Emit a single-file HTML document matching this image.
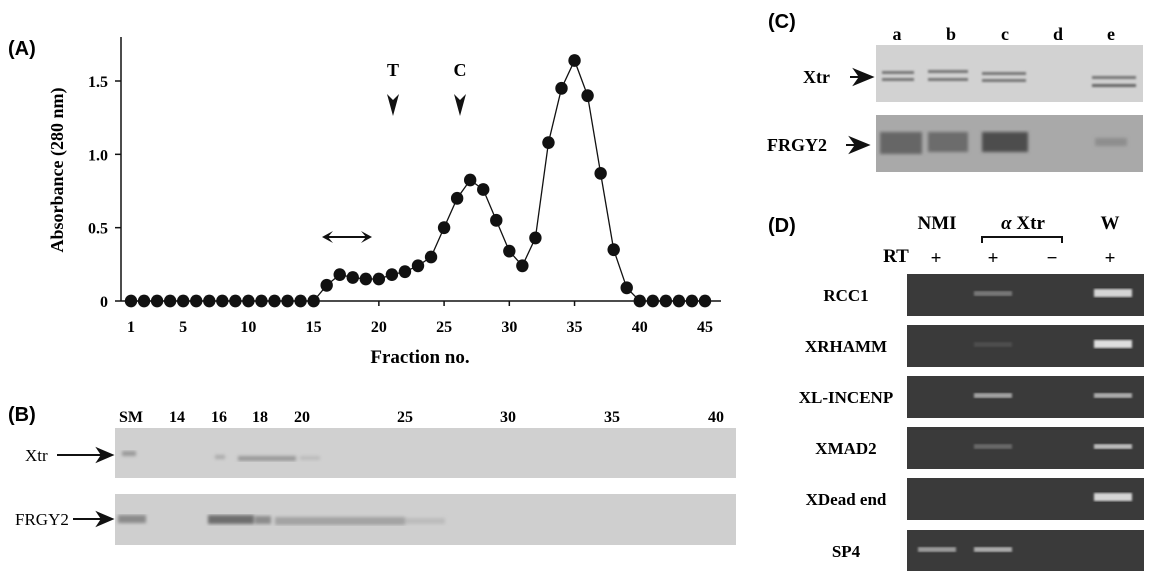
<!DOCTYPE html>
<html><head><meta charset="utf-8"><style>
body{margin:0;background:#fff;width:1149px;height:571px;overflow:hidden;position:relative;font-family:"Liberation Serif",serif}
svg{position:absolute;left:0;top:0}
</style></head><body>
<svg width="1149" height="571" viewBox="0 0 1149 571" id="fig">
<defs>
<filter id="blur2"><feGaussianBlur stdDeviation="1.6"/></filter>
<filter id="blur1"><feGaussianBlur stdDeviation="1"/></filter>
</defs>
<!-- Panel A -->
<text x="8" y="55" font-family="Liberation Sans" font-weight="bold" font-size="20">(A)</text>
<text transform="translate(63,170) rotate(-90)" text-anchor="middle" font-weight="bold" font-size="18">Absorbance (280 nm)</text>
<g id="axes"></g>
<g id="series"></g>
<text x="393" y="76" text-anchor="middle" font-weight="bold" font-size="18">T</text>
<path d="M387,94 L393,116 L399,94 L393,100 Z" fill="#111"/>
<text x="460" y="76" text-anchor="middle" font-weight="bold" font-size="18">C</text>
<path d="M454,94 L460,116 L466,94 L460,100 Z" fill="#111"/>
<g>
<line x1="326" y1="237" x2="368" y2="237" stroke="#111" stroke-width="2"/>
<path d="M322,237 L333,231 L328,237 L333,243 Z" fill="#111"/>
<path d="M372,237 L361,231 L366,237 L361,243 Z" fill="#111"/>
</g>
<text x="420" y="363" text-anchor="middle" font-weight="bold" font-size="19">Fraction no.</text>

<!-- Panel B -->
<text x="8" y="421" font-family="Liberation Sans" font-weight="bold" font-size="20">(B)</text>
<g font-weight="bold" font-size="16" text-anchor="middle">
<text x="131" y="422">SM</text><text x="177" y="422">14</text><text x="219" y="422">16</text><text x="260" y="422">18</text><text x="302" y="422">20</text><text x="405" y="422">25</text><text x="508" y="422">30</text><text x="612" y="422">35</text><text x="716" y="422">40</text>
</g>
<rect x="115" y="428" width="621" height="50" fill="#d0d0d0"/>
<rect x="115" y="494" width="621" height="51" fill="#cfcfcf"/>
<g filter="url(#blur2)">
<rect x="122" y="451" width="14" height="5" fill="#999"/>
<rect x="215" y="455" width="10" height="4" fill="#aaa"/>
<rect x="238" y="456" width="58" height="5" fill="#9a9a9a"/>
<rect x="300" y="456" width="20" height="4" fill="#bbb"/>
</g>
<g filter="url(#blur2)">
<rect x="118" y="515" width="28" height="8" fill="#8a8a8a"/>
<rect x="208" y="515" width="46" height="9" fill="#6e6e6e"/>
<rect x="255" y="516" width="16" height="8" fill="#8c8c8c"/>
<rect x="275" y="517" width="130" height="8" fill="#a3a3a3"/>
<rect x="405" y="518" width="40" height="6" fill="#bcbcbc"/>
</g>
<text x="25" y="461" font-size="17">Xtr</text>
<text x="15" y="525" font-size="17">FRGY2</text>
<path d="M57,455 L103,455 M98,449 L112,455 L98,461 L102,455 Z" stroke="#111" stroke-width="2" fill="#111"/>
<path d="M73,519 L103,519 M98,513 L112,519 L98,525 L102,519 Z" stroke="#111" stroke-width="2" fill="#111"/>

<!-- Panel C -->
<text x="768" y="28" font-family="Liberation Sans" font-weight="bold" font-size="20">(C)</text>
<g font-weight="bold" font-size="18" text-anchor="middle">
<text x="897" y="40">a</text><text x="951" y="40">b</text><text x="1005" y="40">c</text><text x="1058" y="40">d</text><text x="1111" y="40">e</text>
</g>
<rect x="876" y="45" width="267" height="57" fill="#d2d2d2"/>
<rect x="876" y="115" width="267" height="57" fill="#a9a9a9"/>
<g filter="url(#blur1)">
<rect x="882" y="71" width="32" height="3" fill="#777"/><rect x="882" y="78" width="32" height="3" fill="#777"/>
<rect x="928" y="70" width="40" height="3" fill="#777"/><rect x="928" y="78" width="40" height="3" fill="#777"/>
<rect x="982" y="72" width="44" height="3" fill="#777"/><rect x="982" y="79" width="44" height="3" fill="#777"/>
<rect x="1092" y="76" width="44" height="3" fill="#777"/><rect x="1092" y="84" width="44" height="3" fill="#666"/>
</g>
<g filter="url(#blur2)">
<rect x="880" y="132" width="42" height="22" fill="#666"/>
<rect x="928" y="132" width="40" height="20" fill="#6c6c6c"/>
<rect x="982" y="132" width="46" height="20" fill="#4e4e4e"/>
<rect x="1095" y="138" width="32" height="8" fill="#8e8e8e"/>
</g>
<text x="803" y="83" font-weight="bold" font-size="18">Xtr</text>
<text x="767" y="151" font-weight="bold" font-size="18">FRGY2</text>
<path d="M850,77 L862,77 M855,70 L872,77 L855,84 L860,77 Z" stroke="#111" stroke-width="2" fill="#111"/>
<path d="M846,145 L858,145 M851,138 L868,145 L851,152 L856,145 Z" stroke="#111" stroke-width="2" fill="#111"/>

<!-- Panel D -->
<text x="768" y="232" font-family="Liberation Sans" font-weight="bold" font-size="20">(D)</text>
<g font-weight="bold" font-size="19" text-anchor="middle">
<text x="937" y="229">NMI</text>
<text x="1023" y="229"><tspan font-style="italic">α</tspan> Xtr</text>
<text x="1110" y="229">W</text>
<text x="896" y="262">RT</text>
<text x="936" y="264">+</text><text x="993" y="264">+</text><text x="1052" y="264">−</text><text x="1110" y="264">+</text>
</g>
<path d="M982,243 L982,237 L1062,237 L1062,243" stroke="#111" stroke-width="2" fill="none"/>
<g id="gels"></g>
</svg>
<script>
// Panel A chart data
const fractions = [];
for (let i = 1; i <= 45; i++) fractions.push(i);
const absorbance = [0,0,0,0,0,0,0,0,0,0,0,0,0,0,0,0.107,0.18,0.16,0.15,0.15,0.18,0.2,0.24,0.3,0.5,0.7,0.825,0.76,0.55,0.34,0.24,0.43,1.08,1.45,1.64,1.40,0.87,0.35,0.09,0,0,0,0,0,0];
const xTickLabels = [1,5,10,15,20,25,30,35,40,45];
const yTickValues = [0,0.5,1.0,1.5];
const yTickLabels = ["0","0.5","1.0","1.5"];

const NS = "http://www.w3.org/2000/svg";
const X0 = 131, X1 = 705, Y0 = 301, Y15 = 81;
function xScale(f){ return X0 + (f - 1) * (X1 - X0) / 44; }
function yScale(v){ return Y0 - v * (Y0 - Y15) / 1.5; }
function mk(tag, attrs, parent){ const e = document.createElementNS(NS, tag); for (const k in attrs) e.setAttribute(k, attrs[k]); parent.appendChild(e); return e; }

const axes = document.getElementById('axes');
const yAxis = mk('line', {x1:121, y1:37, x2:121, y2:Y0, stroke:'#111', 'stroke-width':1.5}, axes);


const xAxis = mk('line', {x1:121, y1:Y0, x2:721, y2:Y0, stroke:'#111', 'stroke-width':1.5}, axes);


yTickValues.forEach((v, i) => {
  const y = yScale(v);
  mk('line', {x1:115, y1:y, x2:121, y2:y, stroke:'#111', 'stroke-width':1.5}, axes);
  const t = mk('text', {x:108, y:y + 6, 'text-anchor':'end', 'font-weight':'bold', 'font-size':16}, axes);
  t.textContent = yTickLabels[i];
  
  
});
xTickLabels.forEach(f => {
  const x = xScale(f);
  mk('line', {x1:x, y1:Y0, x2:x, y2:Y0 + 5, stroke:'#111', 'stroke-width':1.5}, axes);
  const t = mk('text', {x:x, y:Y0 + 31, 'text-anchor':'middle', 'font-weight':'bold', 'font-size':16}, axes);
  t.textContent = String(f);
  
  
});
const series = document.getElementById('series');
const pts = fractions.map((f, i) => xScale(f) + ',' + yScale(absorbance[i])).join(' ');
const line = mk('polyline', {points:pts, fill:'none', stroke:'#111', 'stroke-width':1.3}, series);


fractions.forEach((f, i) => {
  const c = mk('ellipse', {cx:xScale(f), cy:yScale(absorbance[i]), rx:6.2, ry:6.4, fill:'#111'}, series);
  
  
});

// Panel D gels
const gelNames = ["RCC1","XRHAMM","XL-INCENP","XMAD2","XDead end","SP4"];
const gelTops = [274,325,376,427,478,530];
// band intensities per lane: NMI, aXtr+, aXtr-, W
const bandIntensity = [[0,0.35,0,0.9],[0,0.1,0,0.95],[0,0.6,0,0.65],[0,0.25,0,0.75],[0,0,0,0.9],[0.55,0.65,0,0]];
const laneX = [937,993,1052,1113];
const gels = document.getElementById('gels');
gelNames.forEach((n, r) => {
  const top = gelTops[r];
  const g = mk('rect', {x:907, y:top, width:237, height:42, fill:'#3a3a3a'}, gels);
  
  
  const lab = mk('text', {x:846, y:top + 27, 'text-anchor':'middle', 'font-weight':'bold', 'font-size':17}, gels);
  lab.textContent = n;
  
  
  bandIntensity[r].forEach((v, l) => {
    if (v <= 0) return;
    const c = Math.round(60 + v * 170);
    const b = mk('rect', {x:laneX[l] - 19, y:top + 17 - (v > 0.8 ? 2 : 0), width:38, height:v > 0.8 ? 8 : 5, fill:'rgb(' + c + ',' + c + ',' + c + ')', filter:'url(#blur1)'}, gels);
    
    
  });
});
</script>
</body></html>
